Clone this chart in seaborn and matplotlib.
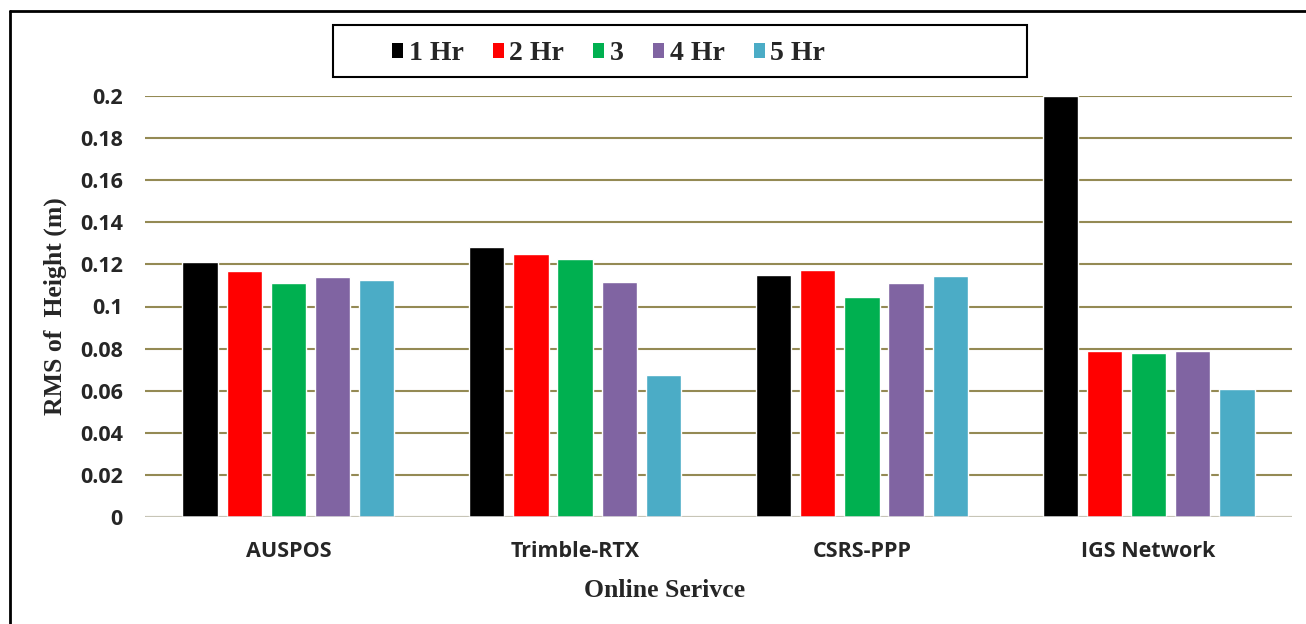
import pandas as pd
import matplotlib.pyplot as plt
import seaborn as sns
from matplotlib.patches import Rectangle, Patch
from matplotlib.lines import Line2D

# data
services = ["AUSPOS", "Trimble-RTX", "CSRS-PPP", "IGS Network"]
series = ["1 Hr", "2 Hr", "3", "4 Hr", "5 Hr"]
hr1 = [0.1211, 0.1283, 0.1148, 0.2000]
hr2 = [0.1168, 0.1250, 0.1172, 0.0789]
hr3 = [0.1112, 0.1225, 0.1045, 0.0779]
hr4 = [0.1141, 0.1117, 0.1112, 0.0789]
hr5 = [0.1127, 0.0675, 0.1145, 0.0607]
colors = ["#000000", "#FF0000", "#00B050", "#8064A2", "#4BACC6"]
yticks = [0, 0.02, 0.04, 0.06, 0.08, 0.1, 0.12, 0.14, 0.16, 0.18, 0.2]
ytick_labels = ["0", "0.02", "0.04", "0.06", "0.08", "0.1", "0.12", "0.14", "0.16", "0.18", "0.2"]

rows = []
for name, vals in zip(series, [hr1, hr2, hr3, hr4, hr5]):
    for svc, v in zip(services, vals):
        rows.append({"Service": svc, "Session": name, "RMS": v})
df = pd.DataFrame(rows)

sns.set_style("white")
serif = "Liberation Serif"
sans = "Open Sans"

fig = plt.figure(figsize=(13.06, 6.24), dpi=100)
ax = fig.add_axes([145 / 1306, 1 - 517 / 624, 1147 / 1306, 421 / 624])

sns.barplot(data=df, x="Service", y="RMS", hue="Session", order=services,
            hue_order=series, palette=colors, width=0.77, gap=0.2,
            saturation=1, legend=False, ax=ax)

ax.set_ylim(0, 0.2)
ax.set_xlim(-0.5, 3.5)
ax.set_yticks(yticks)
ax.set_yticklabels(ytick_labels)
ax.set_axisbelow(True)
ax.yaxis.grid(True, color="#948A54", linewidth=1.5)
ax.xaxis.grid(False)
ax.axhline(0, color="#D9D9D9", linewidth=1.8, zorder=1.5)
for s in ax.spines.values():
    s.set_visible(False)
ax.tick_params(axis="both", length=0)
ax.tick_params(axis="y", pad=16)
ax.tick_params(axis="x", pad=17)
for lab in ax.get_xticklabels() + ax.get_yticklabels():
    lab.set_fontfamily(sans)
    lab.set_fontweight("bold")
    lab.set_fontsize(15.5)

ax.set_xlabel("Online Serivce", fontfamily=serif, fontweight="bold", fontsize=18.5)
ax.set_ylabel("RMS of  Height (m)", fontfamily=serif, fontweight="bold", fontsize=18.5)
ax.xaxis.set_label_coords(0.453, -0.148)
ax.yaxis.set_label_coords(-0.068, 0.5)

# legend without frame, box drawn separately like the original
handles = [Patch(facecolor=c, edgecolor="none") for c in colors]
fig.legend(handles, series, loc="center left", bbox_to_anchor=(378 / 1306, 1 - 54 / 624),
           ncol=5, frameon=False, borderpad=0, handlelength=0.4, handleheight=0.45,
           handletextpad=0.2, columnspacing=1.05,
           prop={"family": serif, "weight": "bold", "size": 20})
fig.add_artist(Rectangle((333 / 1306, 1 - 77 / 624), 694 / 1306, 52 / 624,
                         transform=fig.transFigure, fill=False, edgecolor="black", linewidth=1.5))

# outer border (top and left edges visible in the reference)
fig.add_artist(Line2D([10 / 1306, 1], [1 - 11 / 624, 1 - 11 / 624], transform=fig.transFigure,
                      color="black", linewidth=2))
fig.add_artist(Line2D([10 / 1306, 10 / 1306], [0, 1 - 11 / 624], transform=fig.transFigure,
                      color="black", linewidth=2))

fig.savefig("out.png", dpi=100)
